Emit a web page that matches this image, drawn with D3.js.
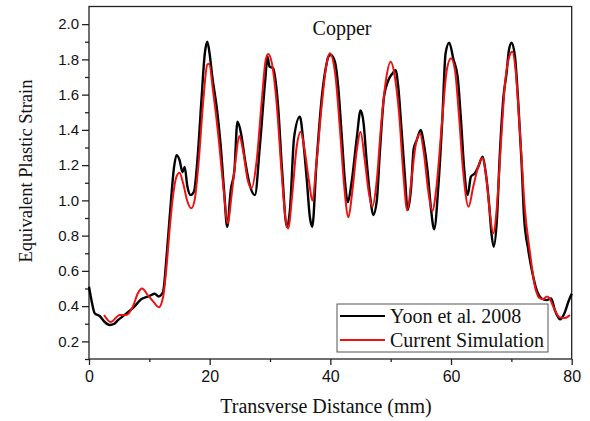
<!DOCTYPE html>
<html><head><meta charset="utf-8">
<script src="https://cdn.jsdelivr.net/npm/d3@7"></script>
<style>
html,body{margin:0;padding:0;background:#fff;}
svg{display:block;}
</style></head>
<body>
<svg id="chart" width="590" height="421"></svg>
<script>
const yoonX = [0,0.4,0.94,1.77,2.6,3.43,4.2,4.8,5.9,7.3,8.7,10.05,10.9,11.55,12.26,12.9,13.5,14.1,14.5,15.0,15.5,15.85,16.3,16.85,17.4,18.06,18.6,19.2,19.6,20.0,20.4,21.2,21.8,22.4,22.9,23.5,24.1,24.6,25.2,25.85,26.7,27.5,28.3,29.2,29.6,29.9,30.5,31.3,32.0,32.8,33.3,34.0,34.95,35.5,36.1,36.6,37.0,37.7,38.6,39.4,39.66,40.1,40.8,41.3,41.9,42.4,42.9,43.5,44.4,45.0,45.5,46.0,46.6,47.1,47.7,48.2,48.9,49.6,50.3,50.8,51.25,51.8,52.4,52.8,53.4,53.8,54.3,55.0,55.5,56.1,56.7,57.2,57.9,58.55,59.1,59.7,60.4,61.1,61.65,62.2,62.75,63.3,63.97,64.5,65.25,65.7,66.3,66.7,67.07,67.6,68.1,68.7,69.2,69.6,70.05,70.6,71.15,71.7,72.1,72.8,73.5,74.2,75.0,75.85,76.6,77.2,78.06,78.8,79.45,80];
const yoonY = [0.51,0.435,0.36,0.344,0.31,0.293,0.30,0.32,0.35,0.39,0.44,0.458,0.47,0.455,0.48,0.70,0.96,1.19,1.257,1.23,1.16,1.19,1.08,1.03,1.05,1.27,1.55,1.835,1.90,1.83,1.71,1.52,1.32,1.05,0.85,1.06,1.17,1.446,1.38,1.23,1.08,1.03,1.30,1.68,1.815,1.76,1.75,1.55,1.17,0.85,0.945,1.36,1.475,1.34,1.115,0.907,0.85,1.21,1.59,1.78,1.815,1.825,1.78,1.645,1.36,1.115,0.99,1.097,1.36,1.51,1.44,1.23,1.02,0.917,1.0,1.27,1.59,1.68,1.72,1.74,1.645,1.40,1.115,0.945,1.08,1.29,1.34,1.40,1.32,1.17,0.945,0.836,1.08,1.455,1.835,1.895,1.80,1.70,1.455,1.17,1.03,1.135,1.154,1.19,1.248,1.17,0.983,0.813,0.737,0.89,1.27,1.59,1.72,1.853,1.895,1.815,1.55,1.21,0.907,0.72,0.586,0.49,0.444,0.434,0.444,0.378,0.325,0.36,0.425,0.47];

const simX = [2.5,3.6,5.1,6.2,7.3,8.1,8.8,9.8,10.8,11.55,12.3,12.8,13.4,13.9,14.5,15.0,15.6,16.3,16.95,17.5,18.2,18.9,19.6,19.9,20.6,21.4,22.26,23.0,23.6,24.3,24.9,25.6,26.3,26.95,27.8,28.6,29.3,29.7,30.3,31.1,31.9,32.6,33.0,33.7,34.4,35.1,35.8,36.5,37.0,37.7,38.6,39.4,39.9,40.8,41.6,42.3,43.0,43.6,44.4,45.0,45.7,46.4,46.95,47.7,48.4,49.2,50.0,50.7,51.4,52.1,52.75,53.5,54.1,54.85,55.5,56.2,56.9,57.6,58.45,59.3,60.0,60.65,61.3,62.0,62.9,63.7,64.5,65.2,65.9,66.45,67.0,67.6,68.3,68.9,69.65,70.15,70.7,71.4,72.25,73.1,73.8,74.7,75.3,75.9,76.4,76.95,78.06,78.9,79.7];
const simY = [0.35,0.31,0.35,0.35,0.40,0.473,0.50,0.46,0.42,0.393,0.455,0.605,0.85,1.02,1.135,1.157,1.097,0.995,0.955,1.0,1.23,1.55,1.77,1.775,1.61,1.38,1.08,0.87,1.02,1.23,1.365,1.27,1.115,1.07,1.23,1.55,1.80,1.83,1.78,1.55,1.17,0.89,0.84,1.04,1.30,1.39,1.27,1.10,1.0,1.21,1.55,1.78,1.835,1.72,1.40,1.08,0.904,1.04,1.29,1.39,1.23,1.04,0.964,1.115,1.42,1.68,1.787,1.70,1.49,1.15,0.945,1.135,1.305,1.38,1.27,1.06,0.94,1.08,1.42,1.74,1.806,1.74,1.49,1.17,0.964,1.08,1.19,1.24,1.115,0.926,0.813,0.964,1.34,1.645,1.815,1.843,1.74,1.40,0.945,0.70,0.53,0.445,0.44,0.455,0.44,0.397,0.335,0.333,0.35];

const xMajorTicks = [0,20,40,60,80];
const xMinorTicks = [10,30,50,70];
const yMajorTicks = [0.2,0.4,0.6,0.8,1.0,1.2,1.4,1.6,1.8,2.0];
const yMinorTicks = [0.1,0.3,0.5,0.7,0.9,1.1,1.3,1.5,1.7,1.9];
const seriesNames = ["Yoon et al. 2008","Current Simulation"];
const seriesColors = ["#000000","#ee1111"];
const chartTitle = "Copper";
const xTitle = "Transverse Distance (mm)";
const yTitle = "Equivalent Plastic Strain";

const L = 89, R = 571.7, T = 6.5, B = 359;
const svg = d3.select("#chart");
const x = d3.scaleLinear().domain([0,80]).range([L,R]);
const y = d3.scaleLinear().domain([0.1,2.1]).range([B,T]);
const axisColor = "#222";

svg.append("rect").attr("x",L).attr("y",T).attr("width",R-L).attr("height",B-T)
  .attr("fill","none").attr("stroke",axisColor).attr("stroke-width",1.3);

function styleAxis(g){
  g.select(".domain").remove();
  g.selectAll("line").attr("stroke",axisColor).attr("stroke-width",1.3);
  g.selectAll("text").attr("fill","#111").attr("font-family","'Liberation Sans', Arial, sans-serif");
}

const xAxisMajor = svg.append("g").attr("transform",`translate(0,${B})`)
  .call(d3.axisBottom(x).tickValues(xMajorTicks).tickSize(6).tickPadding(6).tickFormat(d3.format("d")));
styleAxis(xAxisMajor);
xAxisMajor.selectAll("text").attr("font-size","16px");
const xAxisMinor = svg.append("g").attr("transform",`translate(0,${B})`)
  .call(d3.axisBottom(x).tickValues(xMinorTicks).tickSize(3).tickFormat(""));
styleAxis(xAxisMinor);

const yAxisMajor = svg.append("g").attr("transform",`translate(${L},0)`)
  .call(d3.axisLeft(y).tickValues(yMajorTicks).tickSize(7).tickPadding(3).tickFormat(d3.format(".1f")));
styleAxis(yAxisMajor);
yAxisMajor.selectAll("text").attr("font-size","15px");
const yAxisMinor = svg.append("g").attr("transform",`translate(${L},0)`)
  .call(d3.axisLeft(y).tickValues(yMinorTicks).tickSize(4).tickFormat(""));
styleAxis(yAxisMinor);

const serif = "'Liberation Serif', 'Times New Roman', serif";
svg.append("text").attr("x",342).attr("y",35).attr("text-anchor","middle")
  .attr("font-family",serif).attr("font-size","20px").attr("fill","#111").text(chartTitle);
svg.append("text").attr("x",326).attr("y",413).attr("text-anchor","middle")
  .attr("font-family",serif).attr("font-size","20px").attr("fill","#111").text(xTitle);
svg.append("text").attr("transform","translate(32,171) rotate(-90)").attr("text-anchor","middle")
  .attr("font-family",serif).attr("font-size","18.5px").attr("fill","#111").text(yTitle);

const line = d3.line().x(d=>x(d[0])).y(d=>y(d[1])).curve(d3.curveMonotoneX);
const yoon = yoonX.map((v,i)=>[v,yoonY[i]]);
const sim = simX.map((v,i)=>[v,simY[i]]);
svg.append("path").datum(yoon).attr("d",line).attr("fill","none")
  .attr("stroke",seriesColors[0]).attr("stroke-width",2.4).attr("stroke-linejoin","round");
svg.append("path").datum(sim).attr("d",line).attr("fill","none")
  .attr("stroke",seriesColors[1]).attr("stroke-width",2.0).attr("stroke-linejoin","round");

const lg = svg.append("g");
lg.append("rect").attr("x",337).attr("y",304).attr("width",211).attr("height",48)
  .attr("fill","#fff").attr("stroke","#555").attr("stroke-width",1);
seriesNames.forEach((n,i)=>{
  const yy = 316 + i*24;
  lg.append("line").attr("x1",340).attr("x2",385).attr("y1",yy).attr("y2",yy)
    .attr("stroke",seriesColors[i]).attr("stroke-width",2.2);
  lg.append("text").attr("x",390).attr("y",yy+7).attr("font-family",serif)
    .attr("font-size","20px").attr("fill","#111").text(n);
});
</script>
</body></html>
